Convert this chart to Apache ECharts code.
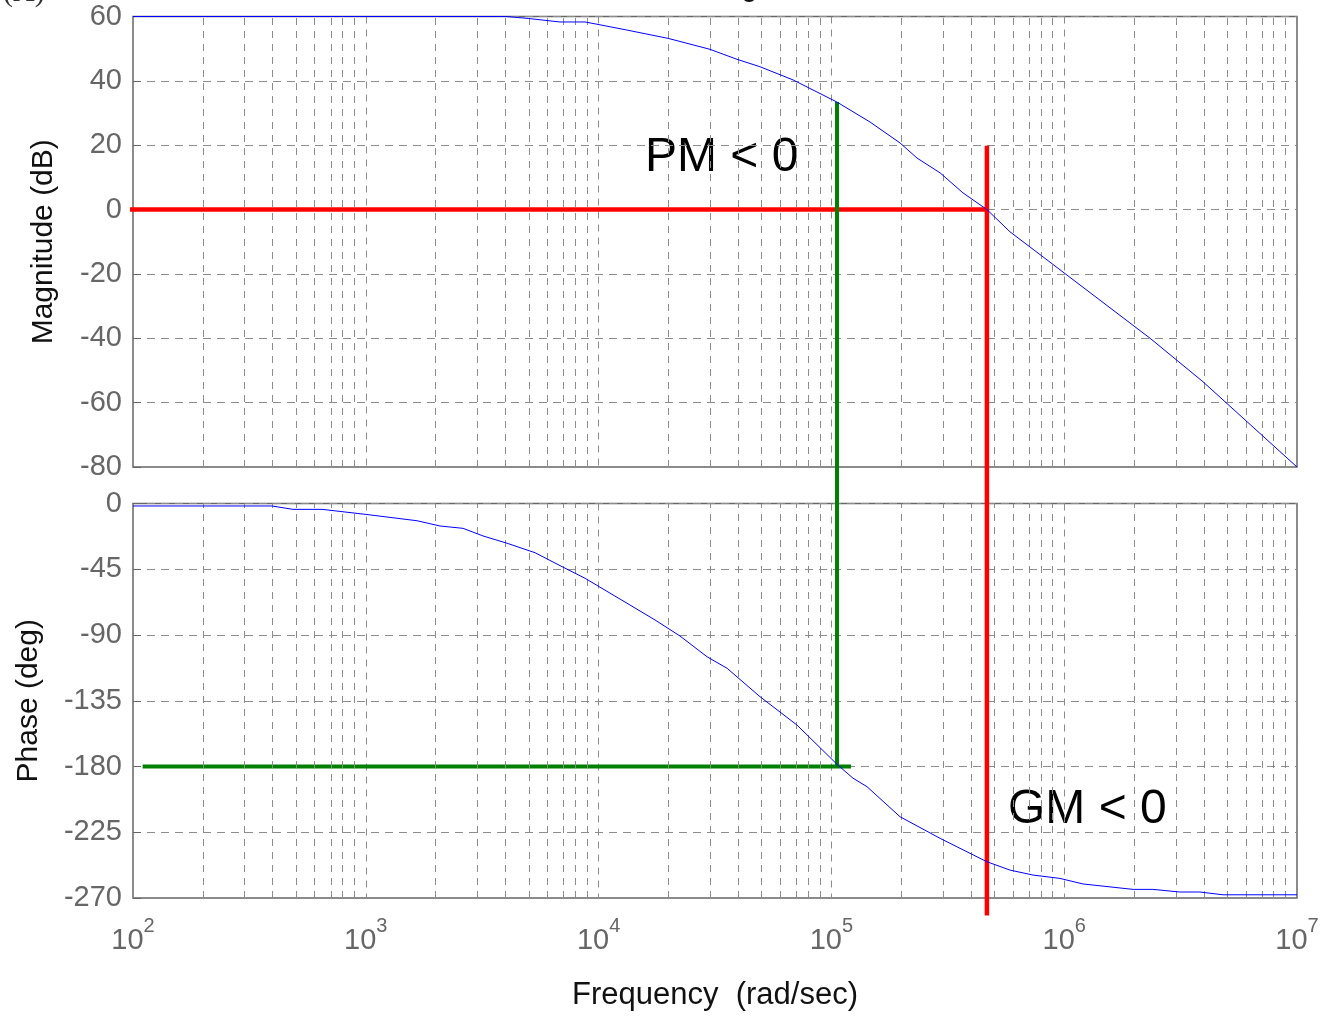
<!DOCTYPE html>
<html>
<head>
<meta charset="utf-8">
<title>Bode Diagram</title>
<script src="https://cdn.jsdelivr.net/npm/echarts@6/dist/echarts.min.js"></script>
<style>
html, body { margin: 0; padding: 0; background: #fff; }
#main { width: 1326px; height: 1017px; }
</style>
</head>
<body>
<div id="main"></div>
<script>
// frequencies in rad/sec
var magFreq = [100, 4000, 4980, 6820, 8750, 9840, 13200, 19900, 30100, 39300, 49300, 68400,
  105700, 146600, 197200, 233300, 293100, 367300, 465600, 584800, 811000, 2339000, 3945000, 10000000];
var magDb = [60, 60, 59.4, 58.3, 58.3, 57.6, 55.8, 53.2, 49.8, 46.7, 44.4, 40.3,
  33.4, 27.2, 20.7, 16.0, 11.4, 5.2, 0, -6.9, -14.7, -40, -53.5, -80];

var phaseFreq = [100, 395, 487, 649, 993, 1660, 2084, 2617, 3186, 4044, 5336, 6826, 8750,
  13650, 17470, 22370, 29240, 35650, 49330, 71110, 105700, 123800, 142200, 197200, 293200,
  465600, 584800, 734400, 959000, 1205000, 1977000, 2404000, 3138000, 3828000, 4806000, 10000000];
var phaseDeg = [-1.7, -1.7, -4.0, -4.0, -7.4, -11.8, -15.4, -17.0, -22.2, -27.2, -33.7, -42.5, -51.2,
  -69.5, -79.7, -90.7, -104.9, -112.8, -132.2, -151.6, -178.5, -188, -193.8, -214.4, -229.2,
  -245.2, -250.9, -254.3, -256.6, -260.4, -264.1, -264.1, -265.9, -265.9, -267.8, -267.8];

// tick labels
var decades = [2, 3, 4, 5, 6, 7];
var magTicks = [-80, -60, -40, -20, 0, 20, 40, 60];
var phaseTicks = [-270, -225, -180, -135, -90, -45, 0];

// margin marker lines
var gainCross = 465600;    // |G| = 0 dB
var phaseCross = 105700;   // phase = -180
var gmTopDb = 19.8;
var gmBottomDeg = -282;
var pmTopDb = 33.4;
var redStart = 95;
var greenStart = 110, greenEnd = 121400;

var lg = Math.log10;
var gridColor = '#8c8c8c';
var labelColor = '#666666';
var font = 'Liberation Sans, Arial, sans-serif';

// plot layout
var left = 133, right = 29;
var topY = 16.5, topH = 450.5;
var botY = 503.5, botH = 394.5;
var gapPx = botY - (topY + topH);
var gapDeg = gapPx * (phaseTicks[phaseTicks.length - 1] - phaseTicks[0]) / botH;

function pairs(fs, vs) {
  return fs.map(function (f, i) { return [lg(f), vs[i]]; });
}

function minorLines() {
  var out = [];
  for (var i = 0; i < decades.length - 1; i++) {
    for (var k = 2; k <= 9; k++) {
      out.push({ xAxis: lg(k * Math.pow(10, decades[i])) });
    }
  }
  return out;
}

function minorMark() {
  return {
    silent: true,
    symbol: ['none', 'none'],
    label: { show: false },
    lineStyle: { color: gridColor, width: 1, type: [7, 6] },
    emphasis: { disabled: true },
    animation: false,
    data: minorLines()
  };
}

function xAxisBase(idx) {
  return {
    type: 'value',
    gridIndex: idx,
    min: decades[0],
    max: decades[decades.length - 1],
    interval: 1,
    axisLine: { show: false },
    axisTick: { show: false },
    axisLabel: { show: false },
    splitLine: { show: true, lineStyle: { color: gridColor, width: 1, type: [7, 6] } }
  };
}

function yAxisBase(idx, ticks, name, gap) {
  return {
    type: 'value',
    gridIndex: idx,
    min: ticks[0],
    max: ticks[ticks.length - 1],
    interval: ticks[1] - ticks[0],
    axisLine: { show: false },
    axisTick: { show: true, inside: true, length: 8, lineStyle: { color: '#666', width: 1 } },
    axisLabel: { color: labelColor, fontSize: 29, fontFamily: font, margin: 11 },
    splitLine: { show: true, lineStyle: { color: gridColor, width: 1, type: [8, 6] } },
    name: name,
    nameLocation: 'middle',
    nameGap: gap,
    nameRotate: 90,
    nameTextStyle: { color: '#111', fontSize: 30, fontFamily: font }
  };
}

var xBottom = xAxisBase(1);
xBottom.axisLabel = {
  show: true,
  margin: 28,
  formatter: function (v) { return '{b|10}{s|' + v + '}'; },
  rich: {
    b: { fontSize: 29, fontFamily: font, color: labelColor, lineHeight: 29, verticalAlign: 'bottom' },
    s: { fontSize: 20, fontFamily: font, color: labelColor, lineHeight: 20, verticalAlign: 'bottom', padding: [0, 0, 19, 0] }
  }
};
xBottom.name = 'Frequency  (rad/sec)';
xBottom.nameLocation = 'middle';
xBottom.nameGap = 82;
xBottom.nameTextStyle = { color: '#111', fontSize: 31, fontFamily: font };

function marker(xi, yi, data, color, width) {
  return {
    type: 'line',
    xAxisIndex: xi,
    yAxisIndex: yi,
    data: data,
    showSymbol: false,
    clip: false,
    silent: true,
    z: 3,
    lineStyle: { color: color, width: width },
    animation: false
  };
}

var option = {
  backgroundColor: '#ffffff',
  animation: false,
  grid: [
    { left: left, right: right, top: topY, height: topH, show: true, borderColor: '#666', borderWidth: 1.5, outerBoundsMode: 'none', containLabel: false },
    { left: left, right: right, top: botY, height: botH, show: true, borderColor: '#666', borderWidth: 1.5, outerBoundsMode: 'none', containLabel: false }
  ],
  xAxis: [xAxisBase(0), xBottom],
  yAxis: [
    yAxisBase(0, magTicks, 'Magnitude (dB)', 74),
    yAxisBase(1, phaseTicks, 'Phase (deg)', 89)
  ],
  graphic: [
    { type: 'text', left: 3, top: -22, style: { text: '(A)', fontSize: 30, fontFamily: 'Liberation Serif, serif', fill: '#333' } },
    { type: 'text', x: 715, y: -27, style: { text: 'Bode Diagram', fontSize: 29, fontFamily: font, fill: '#111', align: 'center' } },
    { type: 'text', x: 645, y: 134, style: { text: 'PM < 0', fontSize: 48, fontFamily: font, fill: '#000' } },
    { type: 'text', x: 1008, y: 786, style: { text: 'GM < 0', fontSize: 48, fontFamily: font, fill: '#000' } }
  ],
  series: [
    // red: 0 dB line and gain crossover
    marker(0, 0, [[lg(redStart), 0], [lg(gainCross), 0]], '#ff0000', 4.5),
    marker(0, 0, [[lg(gainCross), gmTopDb], [lg(gainCross), magTicks[0]]], '#ff0000', 4.5),
    marker(1, 1, [[lg(gainCross), gapDeg], [lg(gainCross), gmBottomDeg]], '#ff0000', 4.5),
    // green: -180 deg line and phase crossover
    marker(0, 0, [[lg(phaseCross), pmTopDb], [lg(phaseCross), magTicks[0]]], '#008000', 4),
    marker(1, 1, [[lg(phaseCross), gapDeg], [lg(phaseCross), -180]], '#008000', 4),
    marker(1, 1, [[lg(greenStart), -180], [lg(greenEnd), -180]], '#008000', 4),
    {
      type: 'line',
      xAxisIndex: 0,
      yAxisIndex: 0,
      data: pairs(magFreq, magDb),
      showSymbol: false,
      z: 5,
      lineStyle: { color: '#0000ff', width: 1 },
      markLine: minorMark()
    },
    {
      type: 'line',
      xAxisIndex: 1,
      yAxisIndex: 1,
      data: pairs(phaseFreq, phaseDeg),
      showSymbol: false,
      z: 5,
      lineStyle: { color: '#0000ff', width: 1 },
      markLine: minorMark()
    }
  ]
};

var chart = echarts.init(document.getElementById('main'));
chart.setOption(option);
</script>
</body>
</html>
